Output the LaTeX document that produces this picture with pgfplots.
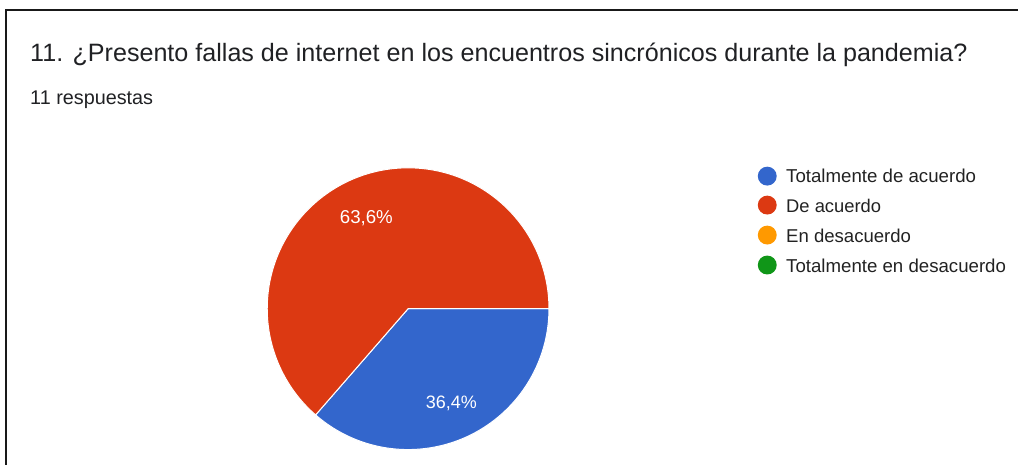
\documentclass[border=0pt]{standalone}
\usepackage{pgfplots}
\pgfplotsset{compat=1.18}
\usepackage{pgfplotstable}
\usepackage{fontspec}
\setmainfont{Liberation Sans}
\definecolor{gblue}{HTML}{3366CC}
\definecolor{gred}{HTML}{DC3912}
\definecolor{gorange}{HTML}{FF9900}
\definecolor{ggreen}{HTML}{109618}
\definecolor{gtext}{HTML}{202124}
\definecolor{gleg}{HTML}{222222}

% shares of the 11 answers (percent)
\pgfplotstableread{
pct
36.4
63.6
0
0
}\piedata

\pgfplotstablegetelem{0}{pct}\of\piedata \let\pa\pgfplotsretval
\pgfplotstablegetelem{1}{pct}\of\piedata \let\pb\pgfplotsretval
\pgfmathsetmacro{\astart}{-\pa*3.6}
\pgfmathsetmacro{\bend}{\pb*3.6}

\begin{document}
\begin{tikzpicture}
\begin{axis}[
  hide axis, scale only axis,
  width=764.25pt, height=348.75pt,
  xmin=0, xmax=1019, ymin=0, ymax=465,
  clip=false,
]
\path (axis cs:0,0) rectangle (axis cs:1019,465);
% frame
\draw[line width=1.5pt, color=black!90] (axis cs:6,0) -- (axis cs:6,455) -- (axis cs:1019,455);

% title
\node[anchor=base west, inner sep=0, text=gtext] at (axis cs:30,403)
  {\resizebox{703.5pt}{!}{11. ¿Presento fallas de internet en los encuentros sincrónicos durante la pandemia?}};
\node[anchor=base west, inner sep=0, text=gtext] at (axis cs:30,360)
  {\resizebox{92.25pt}{!}{11 respuestas}};

% pie
\fill[gblue, draw=white, line width=0.75pt] (axis cs:408.5,156) -- ++(\astart:105.75pt)
  arc[start angle=\astart, end angle=0, radius=105.75pt] -- cycle;
\fill[gred, draw=white, line width=0.75pt] (axis cs:408.5,156) -- ++(0:105.75pt)
  arc[start angle=0, end angle=\bend, radius=105.75pt] -- cycle;

\node[anchor=base, inner sep=0, text=white] at (axis cs:366.7,241)
  {\resizebox{39.75pt}{!}{63,6\%}};
\node[anchor=base, inner sep=0, text=white] at (axis cs:451.7,55.7)
  {\resizebox{38.25pt}{!}{36,4\%}};

% legend
\fill[gblue] (axis cs:768,288.7) circle[radius=7.1pt];
\fill[gred] (axis cs:768,259.7) circle[radius=7.1pt];
\fill[gorange] (axis cs:768,229.7) circle[radius=7.1pt];
\fill[ggreen] (axis cs:768,199.7) circle[radius=7.1pt];
\node[anchor=base west, inner sep=0, text=gleg] at (axis cs:786.7,282.3)
  {\resizebox{142.5pt}{!}{Totalmente de acuerdo}};
\node[anchor=base west, inner sep=0, text=gleg] at (axis cs:786.7,252.5)
  {\resizebox{71.25pt}{!}{De acuerdo}};
\node[anchor=base west, inner sep=0, text=gleg] at (axis cs:786.7,222.5)
  {\resizebox{93.75pt}{!}{En desacuerdo}};
\node[anchor=base west, inner sep=0, text=gleg] at (axis cs:786.7,192.5)
  {\resizebox{165pt}{!}{Totalmente en desacuerdo}};
\end{axis}
\end{tikzpicture}
\end{document}
